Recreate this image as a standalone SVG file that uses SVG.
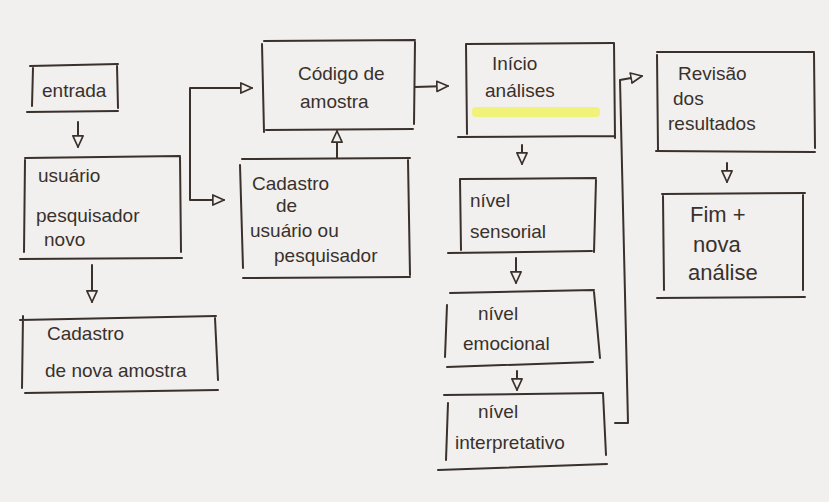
<svg xmlns="http://www.w3.org/2000/svg" width="829" height="502" viewBox="0 0 829 502">
<style>
.bg{fill:#f1f0ee}
.box{fill:none;stroke:#3a302c;stroke-width:2;stroke-linecap:round}
.con{fill:none;stroke:#3a302c;stroke-width:2;stroke-linecap:round;stroke-linejoin:round}
.t{font-family:"Liberation Sans","DejaVu Sans",sans-serif;font-size:19px;fill:#3a302c}
.big{font-size:22px}
</style>
<defs>
<marker id="arr" viewBox="0 0 14 14" markerWidth="13" markerHeight="13" refX="13" refY="7" orient="auto-start-reverse" markerUnits="userSpaceOnUse">
<path d="M1,1.5 L13,7 L1,12.5 Z" fill="#f1f0ee" stroke="#3a302c" stroke-width="1.8" stroke-linejoin="round"/>
</marker>
</defs>
<rect class="bg" x="0" y="0" width="829" height="502"/>

<g id="connectors">
<line class="con" x1="78" y1="122" x2="78" y2="147" marker-end="url(#arr)"/>
<line class="con" x1="92" y1="265" x2="92" y2="302" marker-end="url(#arr)"/>
<path class="con" d="M252,88 L190,88 L190,200 L224,200" marker-start="url(#arr)" marker-end="url(#arr)"/>
<line class="con" x1="337" y1="158" x2="337" y2="131" marker-end="url(#arr)"/>
<line class="con" x1="415" y1="87" x2="448" y2="86" marker-end="url(#arr)"/>
<line class="con" x1="522" y1="145" x2="522" y2="164" marker-end="url(#arr)"/>
<line class="con" x1="516" y1="258" x2="516" y2="283" marker-end="url(#arr)"/>
<line class="con" x1="517" y1="371" x2="517" y2="390" marker-end="url(#arr)"/>
<path class="con" d="M615,423 L628,423 L620,80 L642,76" marker-end="url(#arr)"/>
<line class="con" x1="727" y1="163" x2="727" y2="182" marker-end="url(#arr)"/>
</g>

<g id="entrada">
<path class="box" d="M30,66 L118,64 M33,68 L32,106 M117,65 L118,108 M27,112 L118,111"/>
<text class="t" x="42" y="97">entrada</text>
</g>

<g id="usuario-pesquisador-novo">
<path class="box" d="M25,158 L180,156 M25,160 L24,252 M180,157 L181,252 M20,259 L182,258"/>
<text class="t" x="38" y="182">usuário</text>
<text class="t" x="36" y="222">pesquisador</text>
<text class="t" x="44" y="246">novo</text>
</g>

<g id="cadastro-nova-amostra">
<path class="box" d="M20,320 L216,316 M23,316 L22,388 M215,318 L218,380 M25,393 L218,390"/>
<text class="t" x="47" y="340">Cadastro</text>
<text class="t" x="45" y="377">de nova amostra</text>
</g>

<g id="codigo-amostra">
<path class="box" d="M264,41 L415,40 M262,44 L264,132 M415,42 L414,124 M266,130 L413,129"/>
<text class="t" x="298" y="80">Código de</text>
<text class="t" x="300" y="108">amostra</text>
</g>

<g id="cadastro-usuario">
<path class="box" d="M242,159 L410,158 M240,165 L243,268 M408,160 L410,275 M243,278 L410,277"/>
<text class="t" x="252" y="190">Cadastro</text>
<text class="t" x="276" y="212">de</text>
<text class="t" x="250" y="237">usuário ou</text>
<text class="t" x="274" y="262">pesquisador</text>
</g>

<g id="inicio-analises">
<rect x="472" y="107" width="128" height="10" rx="4" fill="#f1f27a"/>
<path class="box" d="M466,44 L613,43 M466,44 L467,134 M614,43 L615,138 M458,137 L615,136"/>
<text class="t" x="492" y="70">Início</text>
<text class="t" x="485" y="97">análises</text>
</g>

<g id="nivel-sensorial">
<path class="box" d="M460,179 L596,178 M460,179 L461,250 M596,180 L594,252 M448,253 L592,251"/>
<text class="t" x="470" y="207">nível</text>
<text class="t" x="470" y="238">sensorial</text>
</g>

<g id="nivel-emocional">
<path class="box" d="M450,293 L594,290 M447,305 L445,357 M594,292 L600,358 M447,367 L593,362"/>
<text class="t" x="478" y="320">nível</text>
<text class="t" x="463" y="350">emocional</text>
</g>

<g id="nivel-interpretativo">
<path class="box" d="M444,395 L602,393 M448,403 L446,460 M603,393 L606,455 M438,470 L607,464"/>
<text class="t" x="478" y="418">nível</text>
<text class="t" x="455" y="449">interpretativo</text>
</g>

<g id="revisao-resultados">
<path class="box" d="M657,52 L814,52 M657,55 L658,150 M814,53 L815,148 M656,151 L815,152"/>
<text class="t" x="678" y="80">Revisão</text>
<text class="t" x="673" y="105">dos</text>
<text class="t" x="668" y="130">resultados</text>
</g>

<g id="fim-nova-analise">
<path class="box" d="M662,194 L805,193 M663,196 L664,290 M803,195 L803,290 M657,298 L805,297"/>
<text class="t big" x="690" y="222">Fim +</text>
<text class="t big" x="693" y="252">nova</text>
<text class="t big" x="688" y="280">análise</text>
</g>
</svg>
